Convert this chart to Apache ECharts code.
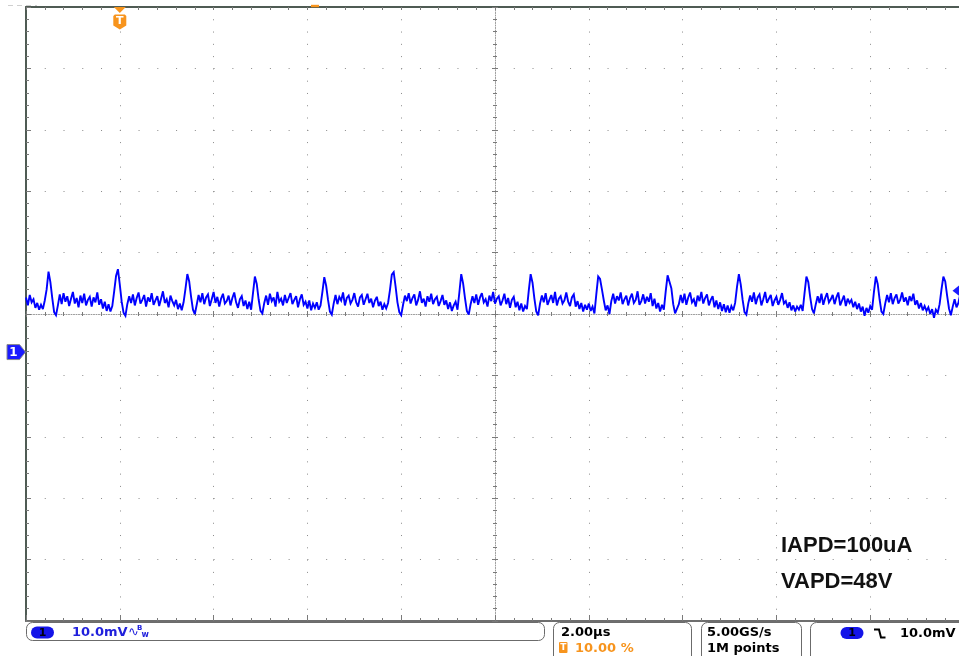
<!DOCTYPE html>
<html><head><meta charset="utf-8">
<script src="https://cdn.jsdelivr.net/npm/echarts@6/dist/echarts.min.js"></script>
<style>html,body{margin:0;padding:0;background:#fff;}#c{width:959px;height:656px;}</style>
</head><body><div id="c"></div>
<script>
// ---- acquisition settings ----
const T_START_US = -2.0;          // first sample time (µs), trigger at 0
const SAMPLE_STEP_US = 0.04;      // displayed sample spacing (µs)
const TIME_PER_DIV_US = 2;        // 2.00 µs/div
const X_RANGE_US = [-2, 18];      // 10 divisions, trigger at 10 %
const CH1_MV_PER_DIV = 10;        // 10.0 mV/div
const CH1_OFFSET_DIV = -0.62;     // ground marker position (div from centre)
const Y_RANGE_DIV = [-5, 5];
const TRIG_LEVEL_MV = 10.0;

// ---- channel 1 samples (mV) ----
const ch1_mV = [
8.9,7.6,9.3,8.1,8.6,7.2,8.0,6.9,7.7,7.0,8.4,10.2,13.1,11.4,8.8,6.5,6.0,7.6,9.4,7.8,
9.6,8.2,9.1,7.5,8.7,9.8,7.9,8.8,7.3,9.2,8.0,9.5,7.6,8.5,9.0,7.4,8.9,8.1,9.7,7.7,
8.6,7.1,8.2,6.7,7.8,6.6,7.5,9.9,12.4,13.5,11.0,8.2,6.4,5.9,7.8,9.1,8.0,9.4,7.6,8.8,
9.7,7.9,8.5,9.3,7.4,8.9,8.2,9.6,7.7,8.4,9.1,7.5,8.7,9.9,8.0,8.6,7.3,9.2,8.3,7.6,
8.5,7.0,7.9,6.8,8.1,10.3,12.7,11.5,9.0,6.9,6.2,7.7,9.3,8.1,9.6,7.8,8.9,9.4,7.5,8.6,
9.8,8.0,9.0,7.4,8.7,9.5,7.9,8.3,9.2,7.6,8.8,9.7,8.1,7.2,8.6,9.1,7.5,8.4,7.0,8.2,
6.9,9.6,12.3,11.1,8.6,6.7,6.3,8.0,9.2,7.7,9.5,8.3,8.9,7.4,9.8,8.2,8.7,7.6,9.3,8.0,
8.8,9.6,7.8,8.5,9.1,7.3,8.6,9.4,7.7,8.2,7.1,8.4,6.8,7.9,7.2,8.1,6.9,7.6,9.8,12.2,
10.8,8.5,6.6,6.1,7.9,9.3,7.8,9.0,8.4,9.7,7.6,8.8,9.2,7.9,8.5,9.6,8.1,7.4,8.9,9.3,
7.7,8.6,9.5,8.0,8.7,7.3,8.4,9.0,7.5,8.2,6.9,7.8,7.1,8.0,10.1,12.6,13.0,10.7,8.1,6.5,
6.0,7.7,9.2,8.3,9.6,7.9,8.8,9.4,7.6,8.5,9.9,8.0,8.7,7.4,9.1,8.2,9.5,7.8,8.6,9.0,
7.5,8.3,9.3,7.7,8.4,7.0,8.1,6.7,7.6,8.2,6.9,9.7,12.7,11.2,8.8,6.7,6.1,7.8,9.1,8.0,
9.4,7.7,8.9,9.6,8.1,8.6,7.4,9.2,8.3,9.8,7.9,8.7,9.1,7.6,8.4,9.5,7.8,8.8,7.2,8.5,
9.0,7.3,8.2,6.8,7.9,6.6,7.5,7.0,10.0,12.7,11.3,8.7,6.6,6.0,7.9,9.2,8.1,9.6,7.7,8.5,
9.3,8.0,9.8,7.6,8.7,9.1,7.9,8.4,9.7,8.2,7.5,8.9,9.4,7.4,8.3,7.0,8.0,6.6,7.7,6.9,
7.9,6.7,7.4,6.3,9.4,12.3,11.9,10.2,8.4,6.8,7.6,6.2,8.3,9.5,7.9,9.1,8.4,9.7,7.8,8.6,
9.2,7.6,8.8,9.5,8.0,8.5,9.9,7.7,8.3,9.4,7.9,9.0,8.2,9.6,7.5,8.7,7.1,8.0,6.6,7.7,
6.9,9.9,12.5,12.7,10.4,7.8,6.3,6.0,7.8,9.3,8.0,9.5,7.7,8.9,9.7,8.1,8.6,7.4,9.2,8.3,
9.8,7.9,8.8,9.4,7.6,8.5,9.1,7.3,8.4,7.0,8.1,6.7,7.8,6.5,7.6,6.4,7.5,6.8,8.0,10.6,
12.7,11.0,8.5,6.5,6.1,7.9,9.2,8.2,9.7,7.8,8.9,9.4,7.6,8.6,9.8,8.0,8.7,9.3,7.5,8.4,
9.0,7.7,8.5,9.6,7.9,8.3,7.2,8.1,6.8,7.6,6.6,7.4,6.9,7.7,6.7,9.6,12.3,11.4,9.0,7.0,
6.3,7.8,9.1,8.0,9.5,7.7,8.8,9.6,8.1,8.6,9.3,7.8,8.9,9.7,7.6,8.4,9.2,7.5,8.7,8.0,
8.5,7.3,8.2,7.0,7.9,6.6,7.4,5.9,7.2,6.4,7.5,6.9,9.8,12.3,11.1,8.6,6.6,6.2,7.9,9.3,
8.1,9.6,7.8,8.8,9.4,7.9,8.5,9.7,8.2,8.9,7.6,9.1,8.3,9.5,7.7,8.4,7.1,8.0,6.8,7.5,
6.7,7.3,6.2,7.0,5.6,6.9,6.4,7.8,10.2,12.3,11.5,9.2,7.1,6.0,7.4,8.6,7.3,8.0,9.4
];

// ---- texts on screen ----
const statusTexts = ['10.0mV', '2.00µs', '10.00 %', '5.00GS/s', '1M points', '10.0mV'];
const noteTexts = ['IAPD=100uA', 'VAPD=48V'];

const BLUE = '#0000ff', ORANGE = '#f7941d';
const gridDot = '#8a8a8a', borderCol = '#4f5b54', tickCol = '#7a7a7a';
const FONT = '"DejaVu Sans", sans-serif';

const chart = echarts.init(document.getElementById('c'), null, {renderer: 'canvas'});

const seriesData = ch1_mV.map((v, i) => [T_START_US + i * SAMPLE_STEP_US, v / CH1_MV_PER_DIV + CH1_OFFSET_DIV]);

const xBase = {type: 'value', min: X_RANGE_US[0], max: X_RANGE_US[1], interval: TIME_PER_DIV_US,
  axisLabel: {show: false}, splitLine: {show: false}, gridIndex: 0};
const yBase = {type: 'value', min: Y_RANGE_DIV[0], max: Y_RANGE_DIV[1], interval: 1,
  axisLabel: {show: false}, splitLine: {show: false}, gridIndex: 0};
const tick = (inside, len) => ({show: true, inside: inside, length: len, lineStyle: {color: tickCol, width: 1}});
const minor = (len) => ({show: true, splitNumber: 5, length: len, lineStyle: {color: tickCol, width: 1}});

chart.setOption({
  animation: false,
  backgroundColor: '#ffffff',
  grid: {left: 26, top: 7, width: 938, height: 614, containLabel: false, outerBoundsMode: 'none'},
  xAxis: [
    Object.assign({}, xBase, {position: 'top',
      axisLine: {show: true, onZero: false, lineStyle: {color: borderCol, width: 2}},
      axisTick: tick(true, 3), minorTick: minor(3),
      splitLine: {show: true, lineStyle: {color: gridDot, width: 1, type: [1, 11.28]}}}),
    Object.assign({}, xBase, {position: 'bottom',
      axisLine: {show: true, onZero: false, lineStyle: {color: '#6e6e6e', width: 2}},
      axisTick: tick(true, 6), minorTick: minor(3)}),
    Object.assign({}, xBase, {position: 'bottom', offset: -307,
      axisLine: {show: true, onZero: false, lineStyle: {color: '#9a9a9a', width: 1, type: [1, 1.5]}},
      axisTick: tick(true, 3), minorTick: minor(2)}),
    Object.assign({}, xBase, {position: 'bottom', offset: -307,
      axisLine: {show: false, onZero: false},
      axisTick: tick(false, 3), minorTick: minor(2)})
  ],
  yAxis: [
    Object.assign({}, yBase, {position: 'left',
      axisLine: {show: true, onZero: false, lineStyle: {color: borderCol, width: 2}},
      axisTick: tick(true, 5), minorTick: minor(3),
      splitLine: {show: true, lineStyle: {color: gridDot, width: 1, type: [1, 17.76]}}}),
    Object.assign({}, yBase, {position: 'left', offset: -469,
      axisLine: {show: true, onZero: false, lineStyle: {color: '#9a9a9a', width: 1, type: [1, 1.5]}},
      axisTick: tick(true, 3), minorTick: minor(2)}),
    Object.assign({}, yBase, {position: 'left', offset: -469,
      axisLine: {show: false, onZero: false},
      axisTick: tick(false, 3), minorTick: minor(2)})
  ],
  series: [{
    type: 'line', xAxisIndex: 0, yAxisIndex: 0, data: seriesData,
    showSymbol: false, symbol: 'none', sampling: null, smooth: false, clip: true,
    lineStyle: {color: BLUE, width: 1.9, join: 'miter', miterLimit: 3}, z: 5, silent: true
  }]
});

// positions of screen markers from the axes
const trigX = chart.convertToPixel({xAxisIndex: 0}, 0);
const gndY = chart.convertToPixel({yAxisIndex: 0}, CH1_OFFSET_DIV);
const trigLvlY = chart.convertToPixel({yAxisIndex: 0}, TRIG_LEVEL_MV / CH1_MV_PER_DIV + CH1_OFFSET_DIV);

function txt(x, y, text, font, fill, align) {
  return {type: 'text', x: x, y: y, z: 20, silent: true,
    style: {text: text, font: font, fill: fill, align: align || 'left', verticalAlign: 'middle',
            textAlign: align || 'left', textVerticalAlign: 'middle'}};
}
function box(x, y, w, h) {
  return {type: 'rect', z: 15, silent: true, shape: {x: x, y: y, width: w, height: h, r: 6},
    style: {fill: '#ffffff', stroke: '#6b6b6b', lineWidth: 1}};
}
function pill(x, y) {
  return [{type: 'rect', z: 18, silent: true, shape: {x: x, y: y, width: 23, height: 12, r: 6},
    style: {fill: '#1414e8'}},
    txt(x + 11.5, y + 6.5, '1', 'bold 11px ' + FONT, '#000010', 'center')];
}

const g = [];
// top faint record bar marks and position indicator
g.push({type: 'line', z: 20, silent: true, shape: {x1: 8, y1: 5.5, x2: 37, y2: 5.5},
  style: {stroke: '#cfcfcf', lineWidth: 1, lineDash: [5, 4]}});
g.push({type: 'rect', z: 20, silent: true, shape: {x: 311, y: 4.8, width: 8, height: 2.4}, style: {fill: ORANGE}});
// trigger position marker
g.push({type: 'polygon', z: 20, silent: true, shape: {points: [[trigX - 6, 7], [trigX + 6, 7], [trigX, 13]]}, style: {fill: ORANGE}});
g.push({type: 'polygon', z: 20, silent: true,
  shape: {points: [[trigX - 5, 14.5], [trigX + 5, 14.5], [trigX + 6.5, 16], [trigX + 6.5, 25.5], [trigX, 29.5], [trigX - 6.5, 25.5], [trigX - 6.5, 16]]},
  style: {fill: ORANGE}});
g.push(txt(trigX, 21.5, 'T', 'bold 11px ' + FONT, '#ffffff', 'center'));
// channel 1 ground marker
g.push({type: 'polygon', z: 20, silent: true,
  shape: {points: [[7, gndY - 7.5], [19.5, gndY - 7.5], [25.5, gndY], [19.5, gndY + 7.5], [7, gndY + 7.5]]},
  style: {fill: '#1a1aff', stroke: '#8a8a8a', lineWidth: 1}});
g.push(txt(13.5, gndY + 0.5, '1', 'bold 12px ' + FONT, '#ffffff', 'center'));
// trigger level marker (right edge)
g.push({type: 'polygon', z: 20, silent: true,
  shape: {points: [[952.5, trigLvlY], [960, trigLvlY - 6], [960, trigLvlY + 6]]}, style: {fill: '#1a1aff'}});
// annotations
g.push(txt(781, 545.5, noteTexts[0], 'bold 22px "Liberation Sans", Arial, sans-serif', '#111111'));
g.push(txt(781, 581.5, noteTexts[1], 'bold 22px "Liberation Sans", Arial, sans-serif', '#111111'));

// status bar
g.push(box(26.5, 622.5, 518, 18));
g.push(...pill(31, 626.5));
g.push(txt(72, 632.5, statusTexts[0], 'bold 13px ' + FONT, '#2020dc'));
g.push(txt(128, 632.5, '∿', '13px ' + FONT, '#2020dc'));
g.push(txt(137, 628.5, 'B', 'bold 7px ' + FONT, '#2020dc'));
g.push(txt(141.5, 634.5, 'w', 'bold 8px ' + FONT, '#2020dc'));

g.push(box(553.5, 622.5, 138, 40));
g.push(txt(561, 632.5, statusTexts[1], 'bold 13px ' + FONT, '#000000'));
g.push({type: 'rect', z: 18, silent: true, shape: {x: 559, y: 642, width: 8.5, height: 11, r: 1}, style: {fill: ORANGE}});
g.push(txt(563.3, 647.8, 'T', 'bold 9px ' + FONT, '#ffffff', 'center'));
g.push(txt(575, 648.5, statusTexts[2], 'bold 13px ' + FONT, ORANGE));

g.push(box(701.5, 622.5, 100, 40));
g.push(txt(707, 632.5, statusTexts[3], 'bold 13px ' + FONT, '#000000'));
g.push(txt(707, 648.5, statusTexts[4], 'bold 13px ' + FONT, '#000000'));

g.push(box(810.5, 622.5, 170, 40));
g.push(...pill(840.5, 627));
g.push({type: 'polyline', z: 20, silent: true,
  shape: {points: [[874, 629.5], [879, 629.5], [881, 637.5], [885.5, 637.5]]},
  style: {stroke: '#000000', lineWidth: 2, fill: null}});
g.push(txt(900, 633.5, statusTexts[5], 'bold 13px ' + FONT, '#000000'));

chart.setOption({graphic: {elements: g}});
</script>
</body></html>
